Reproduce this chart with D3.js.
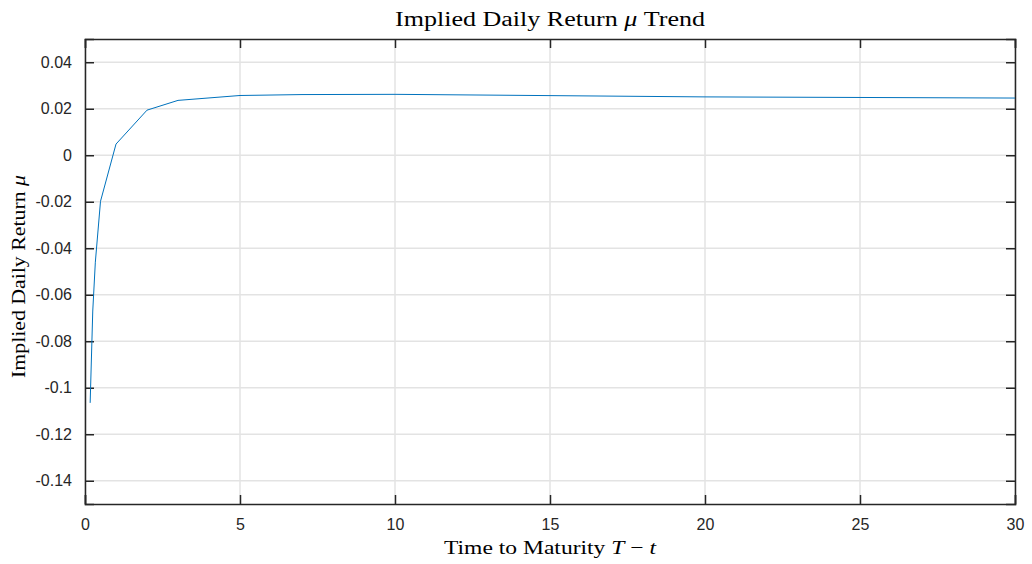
<!DOCTYPE html>
<html>
<head>
<meta charset="utf-8">
<script src="https://cdn.jsdelivr.net/npm/d3@7"></script>
<style>
  body { margin: 0; background: #fff; }
  svg { display: block; }
  .tick text { font-family: "Liberation Sans", Arial, sans-serif; font-size: 16px; fill: #262626; }
  .lbl { font-family: "Liberation Serif", "DejaVu Serif", serif; fill: #000; }
</style>
</head>
<body>
<svg id="chart" width="1032" height="564"></svg>
<script>
// maturities in years and implied daily return
var maturity = [1/6, 0.25, 1/3, 0.5, 1, 2, 3, 5, 7, 10, 20, 30];
var mu = [-0.1065, -0.067, -0.046, -0.0198, 0.0048, 0.0194, 0.0236, 0.0257, 0.0261, 0.0262, 0.0251, 0.0246];
var xTicks = [0, 5, 10, 15, 20, 25, 30];
var yTicks = [0.04, 0.02, 0, -0.02, -0.04, -0.06, -0.08, -0.1, -0.12, -0.14];

var svg = d3.select("#chart");
var m = { left: 85, right: 17, top: 39, bottom: 60 };
var W = 1032, H = 564;
var iw = W - m.left - m.right, ih = H - m.top - m.bottom;

var x = d3.scaleLinear().domain([0, 30]).range([0, iw]);
var y = d3.scaleLinear().domain([-0.15, 0.05]).range([ih, 0]);

var g = svg.append("g").attr("transform", "translate(" + m.left + "," + m.top + ")");

// grid
g.append("g").selectAll("line.gx").data(xTicks).enter().append("line")
    .attr("x1", d => x(d)).attr("x2", d => x(d)).attr("y1", 0).attr("y2", ih)
    .attr("stroke", "#e3e3e3").attr("stroke-width", 1.5);
g.append("g").selectAll("line.gy").data(yTicks).enter().append("line")
    .attr("y1", d => y(d)).attr("y2", d => y(d)).attr("x1", 0).attr("x2", iw)
    .attr("stroke", "#e3e3e3").attr("stroke-width", 1.5);

// plain hyphen minus like the original
function fmt(d) { return String(+d.toFixed(2)); }

// axes, ticks pointing inward
var ax = g.append("g").attr("transform", "translate(0," + ih + ")")
    .call(d3.axisBottom(x).tickValues(xTicks).tickSize(-9).tickPadding(15).tickFormat(fmt));
var axTop = g.append("g")
    .call(d3.axisTop(x).tickValues(xTicks).tickSize(-9).tickFormat(""));
var ay = g.append("g")
    .call(d3.axisLeft(y).tickValues(yTicks).tickSize(-9).tickPadding(13).tickFormat(fmt));
var ayR = g.append("g").attr("transform", "translate(" + iw + ",0)")
    .call(d3.axisRight(y).tickValues(yTicks).tickSize(-9).tickFormat(""));

[ax, axTop, ay, ayR].forEach(function(a) {
    a.select(".domain").attr("stroke", "#262626").attr("stroke-width", 1.5);
    a.selectAll(".tick line").attr("stroke", "#262626").attr("stroke-width", 1.5);
});

// line
var line = d3.line().x((d, i) => x(maturity[i])).y(d => y(d));
g.append("path").datum(mu)
    .attr("d", line)
    .attr("fill", "none")
    .attr("stroke", "#0072BD")
    .attr("stroke-width", 1);

// title
var t = svg.append("text").attr("class", "lbl")
    .attr("x", m.left + iw / 2).attr("y", 26)
    .attr("text-anchor", "middle").attr("font-size", 20)
    .attr("textLength", 310).attr("lengthAdjust", "spacingAndGlyphs");
t.append("tspan").text("Implied Daily Return ");
t.append("tspan").attr("font-style", "italic").text("μ");
t.append("tspan").text(" Trend");

// x label
var xl = svg.append("text").attr("class", "lbl")
    .attr("x", m.left + iw / 2).attr("y", 554)
    .attr("text-anchor", "middle").attr("font-size", 19)
    .attr("textLength", 212).attr("lengthAdjust", "spacingAndGlyphs");
xl.append("tspan").text("Time to Maturity ");
xl.append("tspan").attr("font-style", "italic").text("T");
xl.append("tspan").text(" − ");
xl.append("tspan").attr("font-style", "italic").text("t");

// y label
var yl = svg.append("text").attr("class", "lbl")
    .attr("transform", "translate(25," + (m.top + ih / 2 + 5) + ") rotate(-90)")
    .attr("text-anchor", "middle").attr("font-size", 19)
    .attr("textLength", 203).attr("lengthAdjust", "spacingAndGlyphs");
yl.append("tspan").text("Implied Daily Return ");
yl.append("tspan").attr("font-style", "italic").text("μ");
</script>
</body>
</html>
